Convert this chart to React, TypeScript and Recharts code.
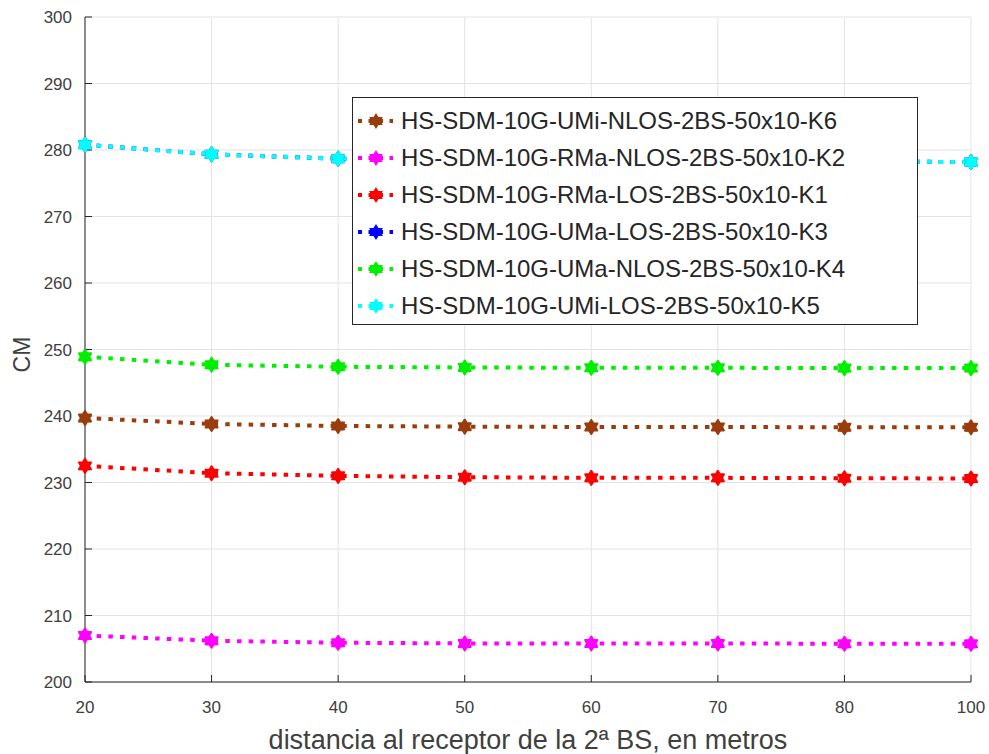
import { LineChart, Line, XAxis, YAxis, CartesianGrid, Legend } from 'recharts';

const distances = ['20', '30', '40', '50', '60', '70', '80', '100'];

const k6 = [239.7, 238.8, 238.5, 238.4, 238.35, 238.35, 238.3, 238.3];
const k2 = [207.0, 206.2, 205.9, 205.8, 205.8, 205.8, 205.75, 205.75];
const k1 = [232.5, 231.4, 231.0, 230.8, 230.7, 230.7, 230.65, 230.6];
const k3 = [280.8, 279.35, 278.7, 278.5, 278.4, 278.3, 278.25, 278.2];
const k4 = [248.9, 247.7, 247.4, 247.3, 247.25, 247.25, 247.2, 247.2];
const k5 = [280.8, 279.35, 278.7, 278.5, 278.4, 278.3, 278.25, 278.2];

const yTicks = [200, 210, 220, 230, 240, 250, 260, 270, 280, 290, 300];

const series = [
  { key: 'k6', name: 'HS-SDM-10G-UMi-NLOS-2BS-50x10-K6', color: '#9a3c0c', values: k6 },
  { key: 'k2', name: 'HS-SDM-10G-RMa-NLOS-2BS-50x10-K2', color: '#ff00ff', values: k2 },
  { key: 'k1', name: 'HS-SDM-10G-RMa-LOS-2BS-50x10-K1', color: '#ff0000', values: k1 },
  { key: 'k3', name: 'HS-SDM-10G-UMa-LOS-2BS-50x10-K3', color: '#0000ff', values: k3 },
  { key: 'k4', name: 'HS-SDM-10G-UMa-NLOS-2BS-50x10-K4', color: '#00ee00', values: k4 },
  { key: 'k5', name: 'HS-SDM-10G-UMi-LOS-2BS-50x10-K5', color: '#00ffff', values: k5 },
];

const data = distances.map((d, i) => {
  const row: Record<string, string | number> = { d };
  series.forEach((s) => (row[s.key] = s.values[i]));
  return row;
});

const FONT = '"Liberation Sans", Arial, sans-serif';
const DASH = '4.5 7.2';

function hexPath(cx: number, cy: number, r: number) {
  const pts: string[] = [];
  for (let i = 0; i < 12; i++) {
    const a = ((-90 + i * 30) * Math.PI) / 180;
    const rr = i % 2 === 0 ? r : r * 0.6;
    pts.push(`${cx + rr * Math.cos(a)},${cy + rr * Math.sin(a)}`);
  }
  return 'M' + pts.join('L') + 'Z';
}

function makeDot(color: string) {
  return (p: any) => (
    <path
      key={p.index}
      d={hexPath(p.cx, p.cy, 7)}
      fill={color}
      stroke={color}
      strokeWidth={2}
      strokeLinejoin="round"
    />
  );
}

function LegendBox() {
  return (
    <div
      style={{
        border: '1px solid #262626',
        background: '#fff',
        width: 564,
        height: 222,
        boxSizing: 'content-box',
        paddingTop: 4,
        fontFamily: FONT,
      }}
    >
      {series.map((s) => (
        <div key={s.key} style={{ height: 37, display: 'flex', alignItems: 'center' }}>
          <svg width={48} height={20} style={{ flex: 'none' }}>
            <line x1={5} y1={10} x2={40} y2={10} stroke={s.color} strokeWidth={4} strokeDasharray="4 6.5" />
            <path d={hexPath(23, 10, 6)} fill={s.color} stroke={s.color} strokeWidth={2} />
          </svg>
          <span style={{ fontSize: 24, color: '#262626', whiteSpace: 'nowrap' }}>{s.name}</span>
        </div>
      ))}
    </div>
  );
}

export default function App() {
  return (
    <div style={{ width: 989, height: 754, background: '#fff' }}>
      <style>{'body{margin:0}'}</style>
      <LineChart width={989} height={754} data={data} margin={{ top: 17, right: 18, bottom: 0, left: 0 }}>
        <CartesianGrid stroke="#e3e3e3" strokeWidth={1} />
        <XAxis
          dataKey="d"
          height={72}
          stroke="#262626"
          tickSize={-7}
          tickMargin={26}
          tick={{ fill: '#404040', fontSize: 17, fontFamily: FONT }}
          label={{
            content: (p: any) => (
              <text
                x={p.viewBox.x + p.viewBox.width / 2}
                y={749}
                textAnchor="middle"
                fill="#404040"
                fontSize={27}
                fontFamily={FONT}
              >
                distancia al receptor de la 2ª BS, en metros
              </text>
            ),
          }}
        />
        <YAxis
          domain={[200, 300]}
          ticks={yTicks}
          width={85}
          stroke="#262626"
          tickSize={-7}
          tickMargin={20}
          tick={{ fill: '#404040', fontSize: 17, fontFamily: FONT }}
          label={{
            content: (p: any) => {
              const cy = p.viewBox.y + p.viewBox.height / 2 + 5;
              return (
                <text
                  x={22}
                  y={cy}
                  transform={`rotate(-90 22 ${cy})`}
                  textAnchor="middle"
                  dominantBaseline="central"
                  fill="#404040"
                  fontSize={23}
                  fontFamily={FONT}
                >
                  CM
                </text>
              );
            },
          }}
        />
        <Legend
          layout="vertical"
          align="center"
          verticalAlign="middle"
          content={() => <LegendBox />}
          wrapperStyle={{ position: 'absolute', left: 352, top: 97, width: 566, height: 227 }}
        />
        {series.map((s) => (
          <Line
            key={s.key}
            dataKey={s.key}
            name={s.name}
            stroke={s.color}
            strokeWidth={4}
            strokeDasharray={DASH}
            dot={makeDot(s.color)}
            activeDot={false}
            isAnimationActive={false}
          />
        ))}
      </LineChart>
    </div>
  );
}
